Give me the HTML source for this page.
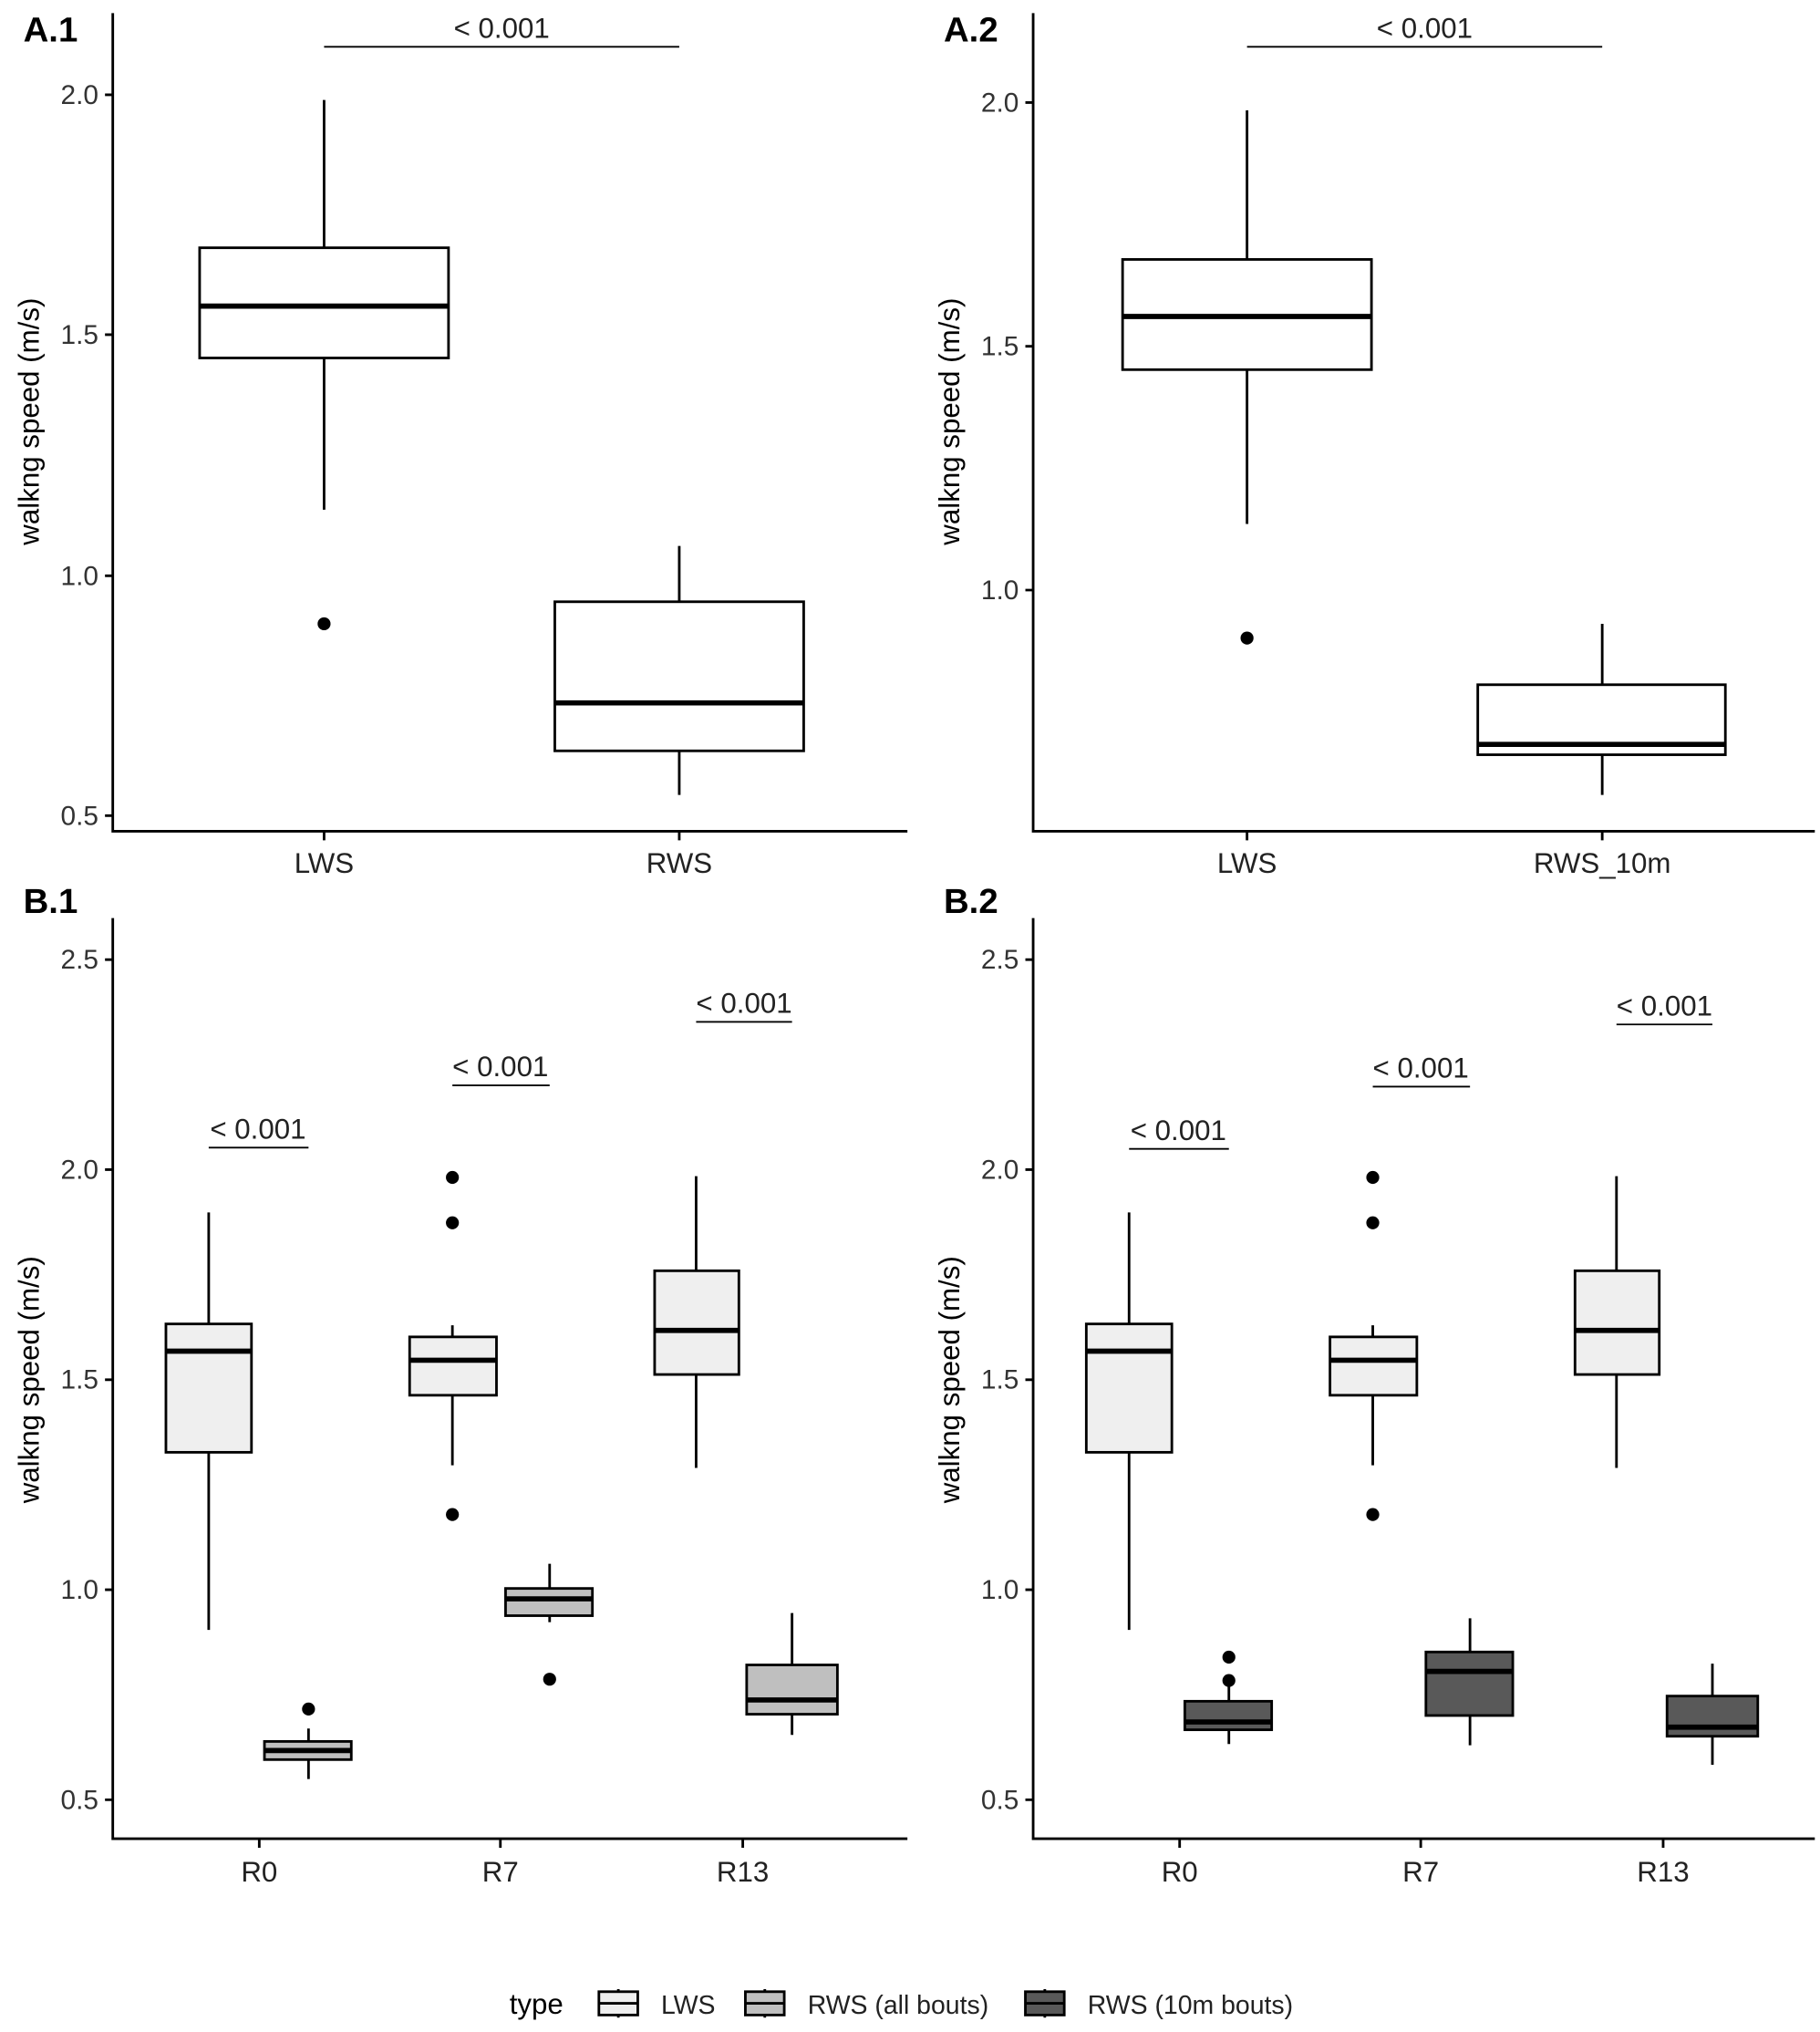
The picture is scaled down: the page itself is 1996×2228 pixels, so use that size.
<!DOCTYPE html>
<html><head><meta charset="utf-8"><style>html,body{margin:0;padding:0;background:#fff}svg{display:block}</style></head><body>
<svg width="1996" height="2228" viewBox="0 0 1404 1567" xmlns="http://www.w3.org/2000/svg" font-family="Liberation Sans, sans-serif">
<rect width="1404" height="1567" fill="#fff"/>
<g stroke="#000" stroke-width="2" fill="none">
<path d="M87 10V641H700"/><path d="M797 10V641H1400"/>
<path d="M87 708V1418H700"/><path d="M797 708V1418H1400"/>
<path d="M81 73H87M81 258H87M81 444H87M81 629H87M250 641V648M524 641V648"/>
<path d="M791 79H797M791 267H797M791 455H797M962 641V648M1236 641V648"/>
<path d="M81 740H87M81 902H87M81 1064H87M81 1226H87M81 1388H87M200 1418V1425M386 1418V1425M573 1418V1425"/>
<path d="M791 740H797M791 902H797M791 1064H797M791 1226H797M791 1388H797M910 1418V1425M1096 1418V1425M1283 1418V1425"/>
<path stroke-width="1.3" d="M250 36H524M962 36H1236M161 885H238M349 837H424M537 788H611M871 886H948M1059 838H1134M1247 790H1321"/>
</g>
<g stroke="#000" stroke-width="2">
<path d="M250 77V191M250 276V393M524 421V464M524 579V613"/>
<rect x="154" y="191" width="192" height="85" fill="#fff"/><path d="M154 236H346" stroke-width="4"/>
<rect x="428" y="464" width="192" height="115" fill="#fff"/><path d="M428 542H620" stroke-width="4"/>
<path d="M962 85V200M962 285V404M1236 481V528M1236 582V613"/>
<rect x="866" y="200" width="192" height="85" fill="#fff"/><path d="M866 244H1058" stroke-width="4"/>
<rect x="1140" y="528" width="191" height="54" fill="#fff"/><path d="M1140 574H1331" stroke-width="4"/>
</g>
<g fill="#000"><circle cx="250" cy="481" r="5"/><circle cx="962" cy="492" r="5"/></g>
<g id="lws" stroke="#000" stroke-width="2">
<path d="M161 935V1021M161 1120V1257M349 1022V1031M349 1076V1130M537 907V980M537 1060V1132"/>
<rect x="128" y="1021" width="66" height="99" fill="#efefef"/><path d="M128 1042H194" stroke-width="4"/>
<rect x="316" y="1031" width="67" height="45" fill="#efefef"/><path d="M316 1049H383" stroke-width="4"/>
<rect x="505" y="980" width="65" height="80" fill="#efefef"/><path d="M505 1026H570" stroke-width="4"/>
<g fill="#000" stroke="none"><circle cx="349" cy="908" r="5"/><circle cx="349" cy="943" r="5"/><circle cx="349" cy="1168" r="5"/></g>
</g>
<use href="#lws" x="710"/>
<g stroke="#000" stroke-width="2">
<path d="M238 1333V1343M238 1357V1372M424 1206V1225M424 1246V1251M611 1244V1284M611 1322V1338"/>
<rect x="204" y="1343" width="67" height="14" fill="#bfbfbf"/><path d="M204 1350H271" stroke-width="4"/>
<rect x="390" y="1225" width="67" height="21" fill="#bfbfbf"/><path d="M390 1233H457" stroke-width="4"/>
<rect x="576" y="1284" width="70" height="38" fill="#bfbfbf"/><path d="M576 1311H646" stroke-width="4"/>
<g fill="#000" stroke="none"><circle cx="238" cy="1318" r="5"/><circle cx="424" cy="1295" r="5"/></g>
<path d="M948 1300V1312M948 1334V1345M1134 1248V1274M1134 1323V1346M1321 1283V1308M1321 1339V1361"/>
<rect x="914" y="1312" width="67" height="22" fill="#595959"/><path d="M914 1328H981" stroke-width="4"/>
<rect x="1100" y="1274" width="67" height="49" fill="#595959"/><path d="M1100 1289H1167" stroke-width="4"/>
<rect x="1286" y="1308" width="70" height="31" fill="#595959"/><path d="M1286 1332H1356" stroke-width="4"/>
<g fill="#000" stroke="none"><circle cx="948" cy="1278" r="5"/><circle cx="948" cy="1296" r="5"/></g>
</g>
<g font-size="21" fill="#333" text-anchor="end">
<text x="76" y="80">2.0</text><text x="76" y="265">1.5</text><text x="76" y="451">1.0</text><text x="76" y="636">0.5</text>
<text x="786" y="86">2.0</text><text x="786" y="274">1.5</text><text x="786" y="462">1.0</text>
<text x="76" y="747">2.5</text><text x="76" y="909">2.0</text><text x="76" y="1071">1.5</text><text x="76" y="1233">1.0</text><text x="76" y="1395">0.5</text>
<text x="786" y="747">2.5</text><text x="786" y="909">2.0</text><text x="786" y="1071">1.5</text><text x="786" y="1233">1.0</text><text x="786" y="1395">0.5</text>
</g>
<g font-size="22" fill="#222" text-anchor="middle">
<text x="250" y="673">LWS</text><text x="524" y="673">RWS</text><text x="962" y="673">LWS</text><text x="1236" y="673">RWS_10m</text>
<text x="200" y="1451">R0</text><text x="386" y="1451">R7</text><text x="573" y="1451">R13</text>
<text x="910" y="1451">R0</text><text x="1096" y="1451">R7</text><text x="1283" y="1451">R13</text>
<text x="387" y="29">&lt; 0.001</text><text x="1099" y="29">&lt; 0.001</text>
<text x="199" y="878">&lt; 0.001</text><text x="386" y="830">&lt; 0.001</text><text x="574" y="781">&lt; 0.001</text>
<text x="909" y="879">&lt; 0.001</text><text x="1096" y="831">&lt; 0.001</text><text x="1284" y="783">&lt; 0.001</text>
</g>
<g font-size="22" fill="#000" text-anchor="middle">
<text transform="translate(30 325) rotate(-90)">walkng speed (m/s)</text>
<text transform="translate(740 325) rotate(-90)">walkng speed (m/s)</text>
<text transform="translate(30 1064) rotate(-90)">walkng speed (m/s)</text>
<text transform="translate(740 1064) rotate(-90)">walkng speed (m/s)</text>
</g>
<g font-size="27" font-weight="bold"><text x="18" y="32">A.1</text><text x="728" y="32">A.2</text><text x="18" y="704">B.1</text><text x="728" y="704">B.2</text></g>
<g font-size="20" fill="#000">
<text x="393" y="1553" font-size="22">type</text>
<g stroke="#000" stroke-width="2">
<path d="M477 1534V1556M590 1534V1556M806 1534V1556"/>
<rect x="462" y="1536" width="30" height="18" fill="#efefef"/><path d="M462 1545H492"/>
<rect x="575" y="1536" width="30" height="18" fill="#bfbfbf"/><path d="M575 1545H605"/>
<rect x="791" y="1536" width="30" height="18" fill="#595959"/><path d="M791 1545H821"/>
</g>
<text x="510" y="1553" fill="#222">LWS</text>
<text x="623" y="1553" fill="#222">RWS (all bouts)</text>
<text x="839" y="1553" fill="#222">RWS (10m bouts)</text>
</g>
</svg>
</body></html>
